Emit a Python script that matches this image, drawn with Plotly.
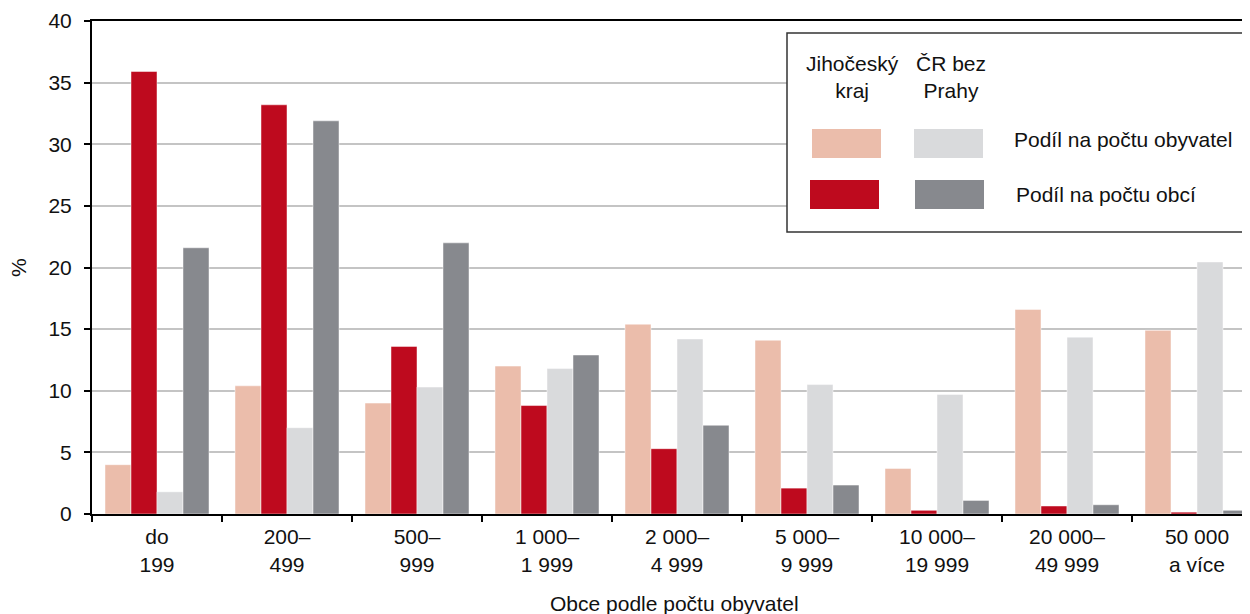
import plotly.graph_objects as go

categories = ["do<br>199", "200–<br>499", "500–<br>999", "1 000–<br>1 999", "2 000–<br>4 999",
              "5 000–<br>9 999", "10 000–<br>19 999", "20 000–<br>49 999", "50 000<br>a více"]
jck_obyvatel = [4.0, 10.4, 9.0, 12.0, 15.4, 14.1, 3.7, 16.6, 14.9]
jck_obci = [35.9, 33.2, 13.6, 8.8, 5.3, 2.1, 0.3, 0.65, 0.15]
cr_obyvatel = [1.8, 7.0, 10.3, 11.8, 14.2, 10.5, 9.7, 14.35, 20.45]
cr_obci = [21.6, 31.9, 22.0, 12.9, 7.2, 2.35, 1.1, 0.75, 0.3]

C_PINK = "#EBBDAB"
C_RED = "#BE0A1E"
C_LGRAY = "#D9DADC"
C_DGRAY = "#87898E"

FONT = "Liberation Sans, Arial, sans-serif"
FS = 21
TXT = "#111111"

fig = go.Figure()
series = [
    ("Jihočeský kraj – Podíl na počtu obyvatel", jck_obyvatel, C_PINK),
    ("Jihočeský kraj – Podíl na počtu obcí", jck_obci, C_RED),
    ("ČR bez Prahy – Podíl na počtu obyvatel", cr_obyvatel, C_LGRAY),
    ("ČR bez Prahy – Podíl na počtu obcí", cr_obci, C_DGRAY),
]
for name, vals, col in series:
    fig.add_trace(go.Bar(x=categories, y=vals, name=name, marker_color=col,
                         marker_line=dict(width=0.6, color="rgba(255,255,255,0.8)"),
                         showlegend=False))

# page body has an 8px margin: figure origin is at (8, 8) of the screenshot
OFF = 8
W, H = 1250 - OFF, 614 - OFF
# visible plot area in reference (screen) pixel coords (the reference is cut at the right edge)
X0, X1, Y0, Y1 = 92, 1250, 21, 514
GROUP_PX = 130.0
L, T = X0 - OFF, Y0 - OFF
R = (W + OFF) - X1
B = (H + OFF) - Y1
pw, ph = X1 - X0, Y1 - Y0
x_hi = -0.5 + pw / GROUP_PX

def px(x):
    return (x - X0) / pw

def py(y):
    return (Y1 - y) / ph

shapes = [
    dict(type="rect", xref="paper", yref="paper", x0=px(787), x1=px(1246), y0=py(33), y1=py(232),
         line=dict(color="#333333", width=1.5), fillcolor="white", layer="above"),
    dict(type="rect", xref="paper", yref="paper", x0=px(812), x1=px(881), y0=py(129), y1=py(158),
         line=dict(width=0), fillcolor=C_PINK, layer="above"),
    dict(type="rect", xref="paper", yref="paper", x0=px(914), x1=px(983), y0=py(129), y1=py(158),
         line=dict(width=0), fillcolor=C_LGRAY, layer="above"),
    dict(type="rect", xref="paper", yref="paper", x0=px(810), x1=px(879), y0=py(180), y1=py(209),
         line=dict(width=0), fillcolor=C_RED, layer="above"),
    dict(type="rect", xref="paper", yref="paper", x0=px(915), x1=px(984), y0=py(180), y1=py(209),
         line=dict(width=0), fillcolor=C_DGRAY, layer="above"),
]

tf = dict(family=FONT, size=FS, color=TXT)
annotations = [
    dict(text="Jihočeský<br>kraj", xref="paper", yref="paper", x=px(852), y=py(77),
         xanchor="center", yanchor="middle", showarrow=False, font=tf),
    dict(text="ČR bez<br>Prahy", xref="paper", yref="paper", x=px(951), y=py(77),
         xanchor="center", yanchor="middle", showarrow=False, font=tf),
    dict(text="Podíl na počtu obyvatel", xref="paper", yref="paper", x=px(1012), y=py(139),
         xanchor="left", yanchor="middle", showarrow=False, font=tf),
    dict(text="Podíl na počtu obcí", xref="paper", yref="paper", x=px(1014), y=py(195),
         xanchor="left", yanchor="middle", showarrow=False, font=tf),
    dict(text="%", xref="paper", yref="paper", x=px(18), y=py(268), textangle=-90,
         xanchor="center", yanchor="middle", showarrow=False, font=tf),
    dict(text="Obce podle počtu obyvatel", xref="paper", yref="paper", x=px(674), y=py(603),
         xanchor="center", yanchor="middle", showarrow=False, font=tf),
]

fig.update_layout(
    width=W, height=H,
    margin=dict(l=L, r=R, t=T, b=B, pad=0),
    paper_bgcolor="white", plot_bgcolor="white",
    barmode="group", bargap=0.2, bargroupgap=0,
    font=dict(family=FONT, size=FS, color=TXT),
    shapes=shapes, annotations=annotations,
    xaxis=dict(
        range=[-0.5, x_hi],
        showline=True, linecolor="black", linewidth=2, mirror=True,
        ticks="outside", tickson="boundaries", ticklen=6, tickwidth=2, tickcolor="black",
        showgrid=False, ticklabelstandoff=3,
        tickfont=dict(family=FONT, size=FS, color=TXT),
    ),
    yaxis=dict(
        range=[0, 40], dtick=5, showline=True, linecolor="black", linewidth=2,
        ticks="outside", ticklen=6, tickwidth=2, tickcolor="black",
        showgrid=True, gridcolor="#C4C4C4", gridwidth=1.5,
        zeroline=False, ticklabelstandoff=8,
        tickfont=dict(family=FONT, size=FS, color=TXT),
    ),
)

fig.write_html("out.html")
